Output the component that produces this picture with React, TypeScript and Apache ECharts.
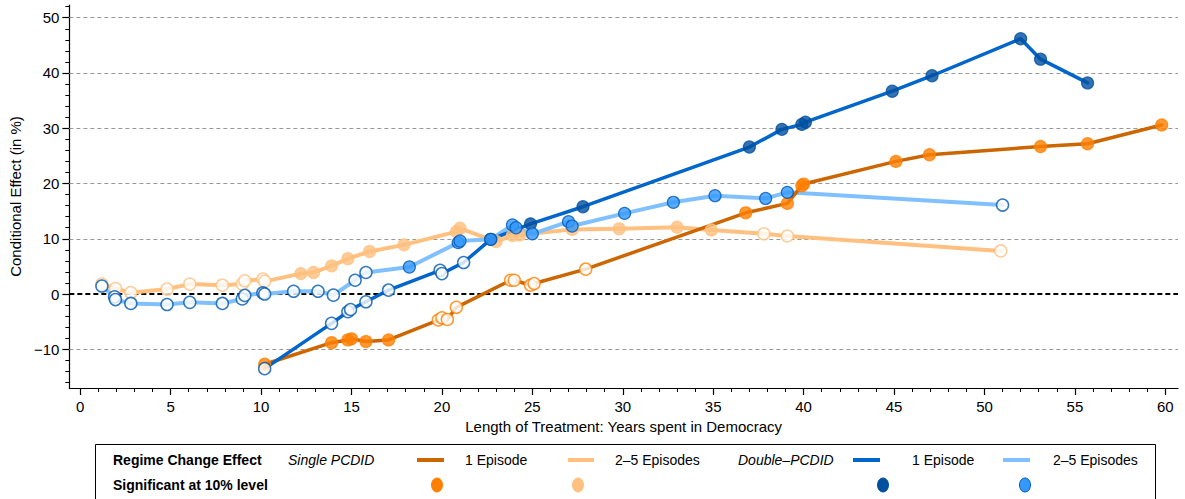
import React, { useEffect, useRef } from "react";
import * as echarts from "echarts";

// ---------- data ----------
const single1X = [10.2, 13.9, 14.8, 15.0, 15.8, 17.05, 19.8, 20.0, 20.3, 20.8, 23.8, 24.0, 24.9, 25.1, 27.95, 36.8, 39.1, 39.9, 40.0, 45.1, 46.96, 53.1, 55.7, 59.8];
const single1Y = [-12.7, -8.8, -8.3, -8.1, -8.6, -8.3, -4.7, -4.3, -4.6, -2.4, 2.5, 2.5, 1.6, 1.9, 4.5, 14.7, 16.4, 19.6, 19.9, 24.0, 25.2, 26.7, 27.2, 30.6];
const single1Sig = [1, 1, 1, 1, 1, 1, 0, 0, 0, 0, 0, 0, 0, 0, 0, 1, 1, 1, 1, 1, 1, 1, 1, 1];

const single25X = [1.2, 1.95, 2.8, 4.8, 6.06, 7.86, 8.96, 9.1, 10.1, 10.2, 12.2, 12.9, 13.9, 14.8, 16.0, 17.9, 20.8, 21.0, 23.0, 23.9, 24.3, 27.2, 29.8, 33.0, 34.9, 37.8, 39.1, 50.9];
const single25Y = [1.8, 1.0, 0.25, 0.9, 1.8, 1.6, 1.8, 2.4, 2.7, 2.3, 3.7, 3.9, 5.1, 6.4, 7.7, 8.9, 11.3, 11.9, 9.5, 10.6, 10.7, 11.7, 11.8, 12.1, 11.6, 10.9, 10.5, 7.8];
const single25Sig = [0, 0, 0, 0, 0, 0, 0, 0, 0, 0, 1, 1, 1, 1, 1, 1, 1, 1, 1, 1, 1, 1, 1, 1, 1, 0, 0, 0];

const double1X = [10.2, 13.9, 14.8, 14.95, 15.8, 17.05, 19.9, 20.0, 21.2, 22.7, 24.9, 27.8, 37.0, 38.8, 39.9, 40.1, 44.9, 47.1, 52.0, 53.1, 55.7];
const double1Y = [-13.5, -5.3, -3.2, -2.8, -1.4, 0.7, 4.3, 3.7, 5.7, 9.9, 12.7, 15.8, 26.6, 29.8, 30.7, 31.1, 36.7, 39.5, 46.2, 42.5, 38.2];
const double1Sig = [0, 0, 0, 0, 0, 0, 0, 0, 0, 1, 1, 1, 1, 1, 1, 1, 1, 1, 1, 1, 1];

const double25X = [1.2, 1.9, 1.95, 2.8, 4.8, 6.06, 7.86, 8.96, 9.1, 10.1, 10.2, 11.8, 13.15, 14.0, 15.2, 15.8, 18.2, 20.9, 21.0, 22.7, 23.9, 24.1, 25.0, 27.0, 27.2, 30.1, 32.8, 35.1, 37.9, 39.1, 51.0];
const double25Y = [1.45, -0.5, -1.0, -1.7, -1.9, -1.5, -1.7, -0.9, -0.25, 0.2, 0.0, 0.5, 0.5, -0.2, 2.5, 3.9, 4.9, 9.3, 9.6, 9.9, 12.5, 12.0, 10.9, 13.1, 12.3, 14.6, 16.6, 17.8, 17.3, 18.4, 16.1];
const double25Sig = [0, 0, 0, 0, 0, 0, 0, 0, 0, 0, 0, 0, 0, 0, 0, 0, 1, 1, 1, 1, 1, 1, 1, 1, 1, 1, 1, 1, 1, 1, 0];

const xMajorTicks = [0, 5, 10, 15, 20, 25, 30, 35, 40, 45, 50, 55, 60];
const xMinorTicks = [0, 1, 2, 3, 4, 5, 6, 7, 8, 9, 10, 11, 12, 13, 14, 15, 16, 17, 18, 19, 20, 21, 22, 23, 24, 25, 26, 27, 28, 29, 30, 31, 32, 33, 34, 35, 36, 37, 38, 39, 40, 41, 42, 43, 44, 45, 46, 47, 48, 49, 50, 51, 52, 53, 54, 55, 56, 57, 58, 59, 60];
const yMajorTicks = [-10, 0, 10, 20, 30, 40, 50];
const yMinorTicks = [-16, -14, -12, -10, -8, -6, -4, -2, 0, 2, 4, 6, 8, 10, 12, 14, 16, 18, 20, 22, 24, 26, 28, 30, 32, 34, 36, 38, 40, 42, 44, 46, 48, 50, 52];
const gridLineValues = [-10, 10, 20, 30, 40, 50];

const FONT = "'Liberation Sans', Arial, Helvetica, sans-serif";

const C = {
  s1Line: "#CC6600",
  s1Mark: "#FF8000",
  s25Line: "#FFC080",
  s25Mark: "#FFC080",
  d1Line: "#0066CC",
  d1Mark: "#0050A0",
  d25Line: "#80C0FF",
  d25Mark: "#3399FF",
  dBorder: "#0058B0",
};

function pairs(xs: number[], ys: number[]) {
  return xs.map((x, i) => [x, ys[i]]);
}

function marks(xs: number[], ys: number[], sig: number[], fill: string, border: string, hollowBorder: string) {
  return xs.map((x, i) => ({
    value: [x, ys[i]],
    itemStyle: sig[i]
      ? { color: fill, borderColor: border, borderWidth: 1.2 }
      : { color: "#ffffff", borderColor: hollowBorder, borderWidth: 1.5 },
  }));
}

const minusFmt = (v: number) => String(v).replace("-", "\u2212");

export default function App() {
  const ref = useRef<HTMLDivElement>(null);

  useEffect(() => {
    if (!ref.current) return;
    const chart = echarts.init(ref.current, undefined, { renderer: "svg" });

    const xMin = -0.6, xMax = 60.7, yMin = -17, yMax = 52.3;

    const lineSeries = (name: string, xs: number[], ys: number[], color: string, width: number, extra: any = {}) => ({
      type: "line",
      name,
      data: pairs(xs, ys),
      showSymbol: false,
      symbol: "none",
      silent: true,
      z: 2,
      lineStyle: { color, width, cap: "round", join: "round" },
      ...extra,
    });

    const scatterSeries = (name: string, data: any[], z: number) => ({
      type: "scatter",
      name,
      data,
      symbol: "circle",
      symbolSize: 12,
      silent: true,
      z,
    });

    const legendY1 = 460;
    const legendY2 = 485;
    const txt = (text: string, x: number, y: number, font: string) => ({
      type: "text",
      x,
      y,
      style: { text, font, fill: "#000", align: "left", verticalAlign: "middle" },
    });
    const seg = (x1: number, x2: number, color: string) => ({
      type: "line",
      shape: { x1, y1: legendY1, x2, y2: legendY1 },
      style: { stroke: color, lineWidth: 4 },
    });
    const dot = (cx: number, fill: string, stroke: string) => ({
      type: "ellipse",
      shape: { cx, cy: legendY2, rx: 5.5, ry: 7 },
      style: { fill, stroke, lineWidth: 1 },
    });

    const option: any = {
      animation: false,
      backgroundColor: "#ffffff",
      grid: { left: 67, right: 7, top: 5, bottom: 111, containLabel: false },
      xAxis: [
        {
          type: "value",
          position: "bottom",
          min: xMin,
          max: xMax,
          axisLine: { show: true, onZero: false, lineStyle: { color: "#000", width: 1.2 } },
          axisTick: { show: true, length: 7, customValues: xMajorTicks, lineStyle: { color: "#000", width: 1.2 } },
          axisLabel: { customValues: xMajorTicks, color: "#000", fontSize: 15, margin: 11, fontFamily: FONT, formatter: minusFmt },
          splitLine: { show: false },
          name: "Length of Treatment: Years spent in Democracy",
          nameLocation: "middle",
          nameGap: 28,
          nameTextStyle: { color: "#000", fontSize: 15, fontFamily: FONT },
        },
        {
          type: "value",
          position: "bottom",
          min: xMin,
          max: xMax,
          axisLine: { show: false, onZero: false },
          axisTick: { show: true, length: 4, customValues: xMinorTicks, lineStyle: { color: "#000", width: 1 } },
          axisLabel: { show: false },
          splitLine: { show: false },
        },
      ],
      yAxis: [
        {
          type: "value",
          position: "left",
          min: yMin,
          max: yMax,
          axisLine: { show: true, onZero: false, lineStyle: { color: "#000", width: 1.2 } },
          axisTick: { show: true, length: 7, customValues: yMajorTicks, lineStyle: { color: "#000", width: 1.2 } },
          axisLabel: { customValues: yMajorTicks, color: "#000", fontSize: 15, margin: 10, fontFamily: FONT, formatter: minusFmt },
          splitLine: { show: false },
          name: "Conditional Effect (in %)",
          nameLocation: "middle",
          nameGap: 42,
          nameRotate: 90,
          nameTextStyle: { color: "#000", fontSize: 15, fontFamily: FONT },
        },
        {
          type: "value",
          position: "left",
          min: yMin,
          max: yMax,
          axisLine: { show: false, onZero: false },
          axisTick: { show: true, length: 4, customValues: yMinorTicks, lineStyle: { color: "#000", width: 1 } },
          axisLabel: { show: false },
          splitLine: { show: false },
        },
      ],
      series: [
        lineSeries("Single 2-5 line", single25X, single25Y, C.s25Line, 4, {
          markLine: {
            silent: true,
            symbol: ["none", "none"],
            label: { show: false },
            z: 1,
            data: [
              ...gridLineValues.map((v) => ({ yAxis: v, lineStyle: { color: "#999", width: 1, type: [4, 3] } })),
              { yAxis: 0, lineStyle: { color: "#000", width: 2, type: [5, 3] } },
            ],
          },
        }),
        lineSeries("Double 2-5 line", double25X, double25Y, C.d25Line, 4),
        lineSeries("Single 1 line", single1X, single1Y, C.s1Line, 3.5),
        lineSeries("Double 1 line", double1X, double1Y, C.d1Line, 3.5),
        scatterSeries("Single 2-5", marks(single25X, single25Y, single25Sig, C.s25Mark, C.s25Mark, C.s25Mark), 5),
        scatterSeries("Single 1", marks(single1X, single1Y, single1Sig, C.s1Mark, C.s1Mark, C.s1Mark), 6),
        scatterSeries("Double 1", marks(double1X, double1Y, double1Sig, C.d1Mark, C.d1Mark, C.dBorder), 7),
        scatterSeries("Double 2-5", marks(double25X, double25Y, double25Sig, C.d25Mark, C.dBorder, C.dBorder), 8),
      ],
      graphic: [
        {
          type: "group",
          silent: true,
          z: 100,
          children: [
            {
              type: "rect",
              shape: { x: 95.5, y: 444.5, width: 1060, height: 70 },
              style: { fill: "#fff", stroke: "#000", lineWidth: 1 },
            },
            txt("Regime Change Effect", 113, legendY1, `bold 14px ${FONT}`),
            txt("Single PCDID", 288, legendY1, `italic 14px ${FONT}`),
            seg(417, 444, C.s1Line),
            txt("1 Episode", 465, legendY1, `14px ${FONT}`),
            seg(568, 594, C.s25Line),
            txt("2–5 Episodes", 615, legendY1, `14px ${FONT}`),
            txt("Double–PCDID", 738, legendY1, `italic 14px ${FONT}`),
            seg(853, 880, C.d1Line),
            txt("1 Episode", 912, legendY1, `14px ${FONT}`),
            seg(1003, 1030, C.d25Line),
            txt("2–5 Episodes", 1053, legendY1, `14px ${FONT}`),
            txt("Significant at 10% level", 113, legendY2, `bold 14px ${FONT}`),
            dot(437, C.s1Mark, C.s1Mark),
            dot(578, C.s25Mark, C.s25Mark),
            dot(883, C.d1Mark, C.d1Mark),
            dot(1025, C.d25Mark, C.dBorder),
          ],
        },
      ],
    };

    chart.setOption(option);
    return () => chart.dispose();
  }, []);

  return (
    <div
      ref={ref}
      style={{ position: "fixed", left: 0, top: 0, width: 1185, height: 499, background: "#fff" }}
    />
  );
}
